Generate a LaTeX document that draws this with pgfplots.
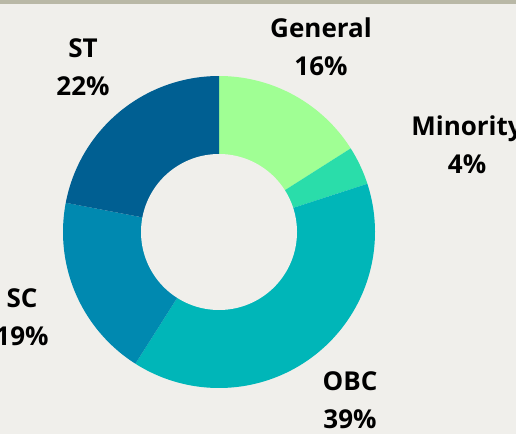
\documentclass[border=0pt]{standalone}
\usepackage{pgfplots}
\usepackage{pgfplotstable}
\pgfplotsset{compat=1.18}
\usepackage{fontspec}
\setmainfont{Open Sans}
\definecolor{bg}{HTML}{F0EFEB}
\definecolor{band}{HTML}{B9B8A6}
\definecolor{c0}{HTML}{A0FF94}
\definecolor{c1}{HTML}{2ADDAA}
\definecolor{c2}{HTML}{00B6B8}
\definecolor{c3}{HTML}{0089B0}
\definecolor{c4}{HTML}{005F92}

\pgfplotstableread{
label value
General 16
Minority 4
OBC 39
SC 19
ST 22
}\datatable

% cumulative angles (clockwise from 12 o'clock)
\def\cum{0}
\pgfplotsforeachungrouped \i in {0,...,4}{%
  \pgfplotstablegetelem{\i}{value}\of\datatable
  \pgfmathsetmacro{\sa}{90-3.6*\cum}%
  \pgfmathsetmacro{\newcum}{\cum+\pgfplotsretval}%
  \pgfmathsetmacro{\ea}{90-3.6*\newcum}%
  \expandafter\xdef\csname sa\i\endcsname{\sa}%
  \expandafter\xdef\csname ea\i\endcsname{\ea}%
  \xdef\cum{\newcum}%
}

\begin{document}
\begin{tikzpicture}
\useasboundingbox (0,0) rectangle (516pt,434pt);
\clip (0,0) rectangle (516pt,434pt);
\fill[bg] (0,0) rectangle (516pt,434pt);
\fill[band] (0,430pt) rectangle (516pt,434pt);
\begin{axis}[
  at={(219pt,202pt)}, anchor=origin,
  x=156pt, y=156pt,
  xmin=-1, xmax=1, ymin=-1, ymax=1,
  hide axis, clip=false,
]
\pgfplotsinvokeforeach{0,...,4}{%
  \edef\doit{\noexpand\addplot[fill=c#1, draw=none, domain=\csname ea#1\endcsname:\csname sa#1\endcsname, samples=150, variable=\noexpand\t] ({cos(\noexpand\t)},{sin(\noexpand\t)}) -- (axis cs:0,0) -- cycle;}%
  \doit
}
\addplot[fill=bg, draw=none, domain=0:360, samples=200, variable=\t] ({0.5*cos(\t)},{0.5*sin(\t)}) -- cycle;
\begin{scope}[every node/.style={font=\fontsize{26}{38}\selectfont\bfseries, align=center, text=black}]
\node at (axis cs:0.654,1.186) {General\\16\%};
\node at (axis cs:1.590,0.558) {Minority\\4\%};
\node at (axis cs:-0.872,1.058) {ST\\22\%};
\node at (axis cs:-1.263,-0.545) {SC\\19\%};
\node at (axis cs:0.840,-1.077) {OBC\\39\%};
\end{scope}
\end{axis}
\end{tikzpicture}
\end{document}
